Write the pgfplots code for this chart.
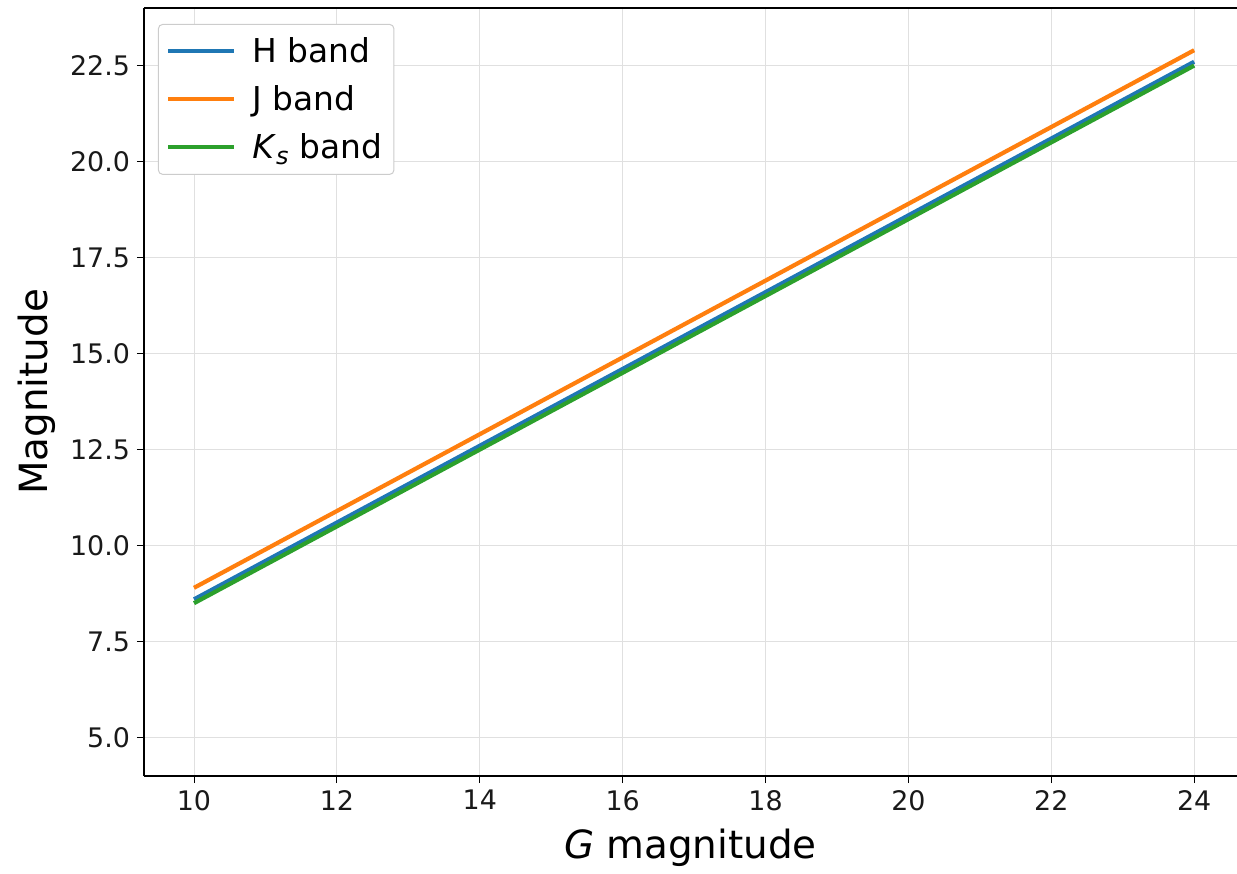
\documentclass[border=0pt]{standalone}
\usepackage{pgfplots}
\pgfplotsset{compat=1.18}
\usepackage{fontspec}
\setmainfont{DejaVu Sans}
\definecolor{tabblue}{HTML}{1F77B4}
\definecolor{taborange}{HTML}{FF7F0E}
\definecolor{tabgreen}{HTML}{2CA02C}
\begin{document}
\begin{tikzpicture}
\begin{axis}[
  scale only axis,
  width=546.5bp, height=384bp,
  xmin=9.3, xmax=24.6, ymin=4.0, ymax=24.0,
  axis x line*=bottom, axis y line*=left,
  xtick={10,12,...,24},
  ytick={5,7.5,10,12.5,15,17.5,20,22.5},
  yticklabel style={/pgf/number format/.cd,fixed,fixed zerofill,precision=1},
  /pgf/number format/assume math mode=true,
  xtick pos=bottom, ytick pos=left,
  tick align=outside,
  major tick length=3.5bp,
  tick style={black, line width=0.5bp},
  axis line style={black, line width=0.6bp},
  ticklabel style={font=\fontsize{13.5}{16}\selectfont, text=black!90},
  grid=major,
  grid style={line width=0.5bp, color=black!12},
  xlabel={\textit{G} magnitude},
  ylabel={Magnitude},
  label style={font=\fontsize{19.5}{23}\selectfont},
  xlabel style={at={(axis description cs:0.5,-0.094)}, anchor=center},
  ylabel style={at={(axis description cs:-0.098,0.5)}, anchor=center},
  legend cell align=left,
  legend style={at={(axis description cs:0,1)}, anchor=north west,
    xshift=7bp, yshift=-8bp,
    draw=black!20, rounded corners=2bp, line width=0.5bp,
    font=\fontsize{16.5}{19}\selectfont,
    inner xsep=4bp, inner ysep=4.5bp, row sep=6bp, column sep=6bp},
  legend image code/.code={\draw[#1, line width=2bp] (0bp,0bp) -- (33bp,0bp);},
  every axis plot/.append style={line width=2.1bp},
  extra description/.code={\draw[black, line width=0.6bp] (rel axis cs:0,1) -- (rel axis cs:1,1);},
]
\addplot[tabblue] coordinates {(10,8.6) (24,22.6)};
\addlegendentry{H band}
\addplot[taborange] coordinates {(10,8.9) (24,22.9)};
\addlegendentry{J band}
\addplot[tabgreen] coordinates {(10,8.5) (24,22.5)};
\addlegendentry{\textit{K}\raisebox{-0.35ex}{\fontsize{12}{14}\selectfont\textit{s}} band}
\end{axis}
\pgfresetboundingbox
\path (current axis.south west) ++(-72bp,-49bp) rectangle ([yshift=4bp]current axis.north east);
\end{tikzpicture}
\end{document}
